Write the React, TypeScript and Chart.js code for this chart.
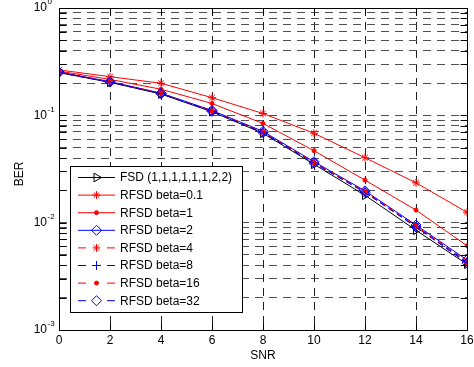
import React, { useEffect, useRef } from 'react';
import { Chart, registerables } from 'chart.js';

Chart.register(...registerables);

const snr = [0, 2, 4, 6, 8, 10, 12, 14, 16];
const fsd = [0.250, 0.203, 0.158, 0.108, 0.068, 0.0350, 0.0180, 0.0085, 0.0041];
const beta01 = [0.265, 0.229, 0.199, 0.146, 0.104, 0.0680, 0.0403, 0.0235, 0.0125];
const beta1 = [0.258, 0.216, 0.175, 0.129, 0.084, 0.0468, 0.0249, 0.0131, 0.0061];
const beta2 = [0.253, 0.206, 0.161, 0.111, 0.071, 0.0370, 0.0198, 0.0095, 0.0045];
const beta4 = [0.252, 0.205, 0.160, 0.110, 0.070, 0.0365, 0.0195, 0.0093, 0.0044];
const beta8 = [0.251, 0.204, 0.159, 0.109, 0.0695, 0.0360, 0.0192, 0.0092, 0.0043];
const beta16 = [0.251, 0.205, 0.160, 0.110, 0.070, 0.0362, 0.0194, 0.0093, 0.0042];
const beta32 = [0.251, 0.204, 0.159, 0.109, 0.069, 0.0358, 0.0191, 0.0091, 0.0042];

const seriesLabels = [
  'FSD (1,1,1,1,1,1,2,2)',
  'RFSD beta=0.1',
  'RFSD beta=1',
  'RFSD beta=2',
  'RFSD beta=4',
  'RFSD beta=8',
  'RFSD beta=16',
  'RFSD beta=32',
];
const seriesValues = [fsd, beta01, beta1, beta2, beta4, beta8, beta16, beta32];
const seriesColors = ['#000000', '#ff0000', '#ff0000', '#0000ff', '#ff0000', '#0000ff', '#ff0000', '#0000ff'];
const seriesDashed = [false, false, false, false, true, true, true, true];
const seriesMarkers = ['triangleRight', 'star', 'dot', 'diamond', 'star', 'plus', 'dot', 'diamond'];

const xTicks = [0, 2, 4, 6, 8, 10, 12, 14, 16];
const yExponents = [0, -1, -2, -3];
const xTitle = 'SNR';
const yTitle = 'BER';

const FONT = "Arial, 'Liberation Sans', Helvetica, sans-serif";

function markerStyle(m: string) {
  switch (m) {
    case 'triangleRight':
      return { pointStyle: 'triangle', pointRotation: 90, pointRadius: 5, fill: false };
    case 'star':
      return { pointStyle: 'star', pointRotation: 0, pointRadius: 4, fill: false };
    case 'dot':
      return { pointStyle: 'circle', pointRotation: 0, pointRadius: 2, fill: true };
    case 'diamond':
      return { pointStyle: 'rectRot', pointRotation: 0, pointRadius: 5, fill: false };
    case 'plus':
    default:
      return { pointStyle: 'cross', pointRotation: 0, pointRadius: 4.5, fill: false };
  }
}

function drawMarker(ctx: CanvasRenderingContext2D, m: string, x: number, y: number, color: string) {
  ctx.save();
  ctx.strokeStyle = color;
  ctx.fillStyle = color;
  ctx.lineWidth = 1;
  ctx.setLineDash([]);
  ctx.beginPath();
  if (m === 'triangleRight') {
    const r = 5;
    ctx.moveTo(x + r, y);
    ctx.lineTo(x - r / 2, y - r * 0.866);
    ctx.lineTo(x - r / 2, y + r * 0.866);
    ctx.closePath();
    ctx.stroke();
  } else if (m === 'star') {
    const r = 4;
    const d = r * Math.SQRT1_2;
    ctx.moveTo(x - r, y); ctx.lineTo(x + r, y);
    ctx.moveTo(x, y - r); ctx.lineTo(x, y + r);
    ctx.moveTo(x - d, y - d); ctx.lineTo(x + d, y + d);
    ctx.moveTo(x - d, y + d); ctx.lineTo(x + d, y - d);
    ctx.stroke();
  } else if (m === 'dot') {
    ctx.arc(x, y, 2, 0, Math.PI * 2);
    ctx.fill();
    ctx.stroke();
  } else if (m === 'diamond') {
    const r = 5;
    ctx.moveTo(x, y - r);
    ctx.lineTo(x + r, y);
    ctx.lineTo(x, y + r);
    ctx.lineTo(x - r, y);
    ctx.closePath();
    ctx.stroke();
  } else {
    const r = 4.5;
    ctx.moveTo(x - r, y); ctx.lineTo(x + r, y);
    ctx.moveTo(x, y - r); ctx.lineTo(x, y + r);
    ctx.stroke();
  }
  ctx.restore();
}

const decorPlugin = {
  id: 'decor',
  beforeDraw(chart: any) {
    const ctx = chart.ctx as CanvasRenderingContext2D;
    ctx.save();
    ctx.fillStyle = '#ffffff';
    ctx.fillRect(0, 0, chart.width, chart.height);
    ctx.restore();
  },
  afterDatasetsDraw(chart: any) {
    const ctx = chart.ctx as CanvasRenderingContext2D;
    const a = chart.chartArea;
    const xs = chart.scales.x;
    const ys = chart.scales.y;
    const L = Math.round(a.left) + 0.5;
    const R = Math.round(a.right) + 0.5;
    const T = Math.round(a.top) + 0.5;
    const B = Math.round(a.bottom) + 0.5;
    ctx.save();
    ctx.strokeStyle = '#000';
    ctx.lineWidth = 1;
    ctx.setLineDash([]);
    ctx.beginPath();
    xTicks.forEach((v) => {
      const px = Math.round(xs.getPixelForValue(v)) + 0.5;
      ctx.moveTo(px, B); ctx.lineTo(px, B - 7);
      ctx.moveTo(px, T); ctx.lineTo(px, T + 7);
    });
    for (let e = -3; e <= 0; e++) {
      for (let m = 1; m <= 9; m++) {
        const v = m * Math.pow(10, e);
        if (v > 1.0000001) continue;
        const py = Math.round(ys.getPixelForValue(v)) + 0.5;
        const len = 7;
        ctx.moveTo(L, py); ctx.lineTo(L + len, py);
        ctx.moveTo(R, py); ctx.lineTo(R - len, py);
      }
    }
    ctx.stroke();
    ctx.strokeRect(L, T, R - L, B - T);
    ctx.restore();
  },
  afterDraw(chart: any) {
    const ctx = chart.ctx as CanvasRenderingContext2D;
    const a = chart.chartArea;
    const xs = chart.scales.x;
    const ys = chart.scales.y;
    ctx.save();
    ctx.fillStyle = '#000';
    ctx.font = `12px ${FONT}`;
    ctx.textAlign = 'center';
    ctx.textBaseline = 'middle';
    xTicks.forEach((v) => {
      ctx.fillText(String(v), xs.getPixelForValue(v), a.bottom + 11);
    });
    yExponents.forEach((e) => {
      const py = ys.getPixelForValue(Math.pow(10, e));
      ctx.font = `12px ${FONT}`;
      ctx.textAlign = 'right';
      ctx.textBaseline = 'middle';
      const baseRight = a.left - 12;
      ctx.fillText('10', baseRight, py);
      ctx.font = `8px ${FONT}`;
      ctx.textAlign = 'left';
      ctx.fillText(String(e), baseRight + 0.5, py - 6);
    });
    ctx.font = `12px ${FONT}`;
    ctx.textAlign = 'center';
    ctx.textBaseline = 'middle';
    ctx.fillText(xTitle, (a.left + a.right) / 2, a.bottom + 26);
    ctx.save();
    ctx.translate(19.5, 174);
    ctx.rotate(-Math.PI / 2);
    ctx.fillText(yTitle, 0, 0);
    ctx.restore();

    const lx = 70.5, ly = 166.5, lw = 172, lh = 146;
    ctx.fillStyle = '#ffffff';
    ctx.fillRect(lx, ly, lw, lh);
    ctx.strokeStyle = '#000';
    ctx.lineWidth = 1;
    ctx.setLineDash([]);
    ctx.strokeRect(lx, ly, lw, lh);
    const rowH = 17.6;
    seriesLabels.forEach((label, i) => {
      const cy = 177.5 + i * rowH;
      const color = seriesColors[i];
      ctx.strokeStyle = color;
      ctx.lineWidth = 1;
      ctx.beginPath();
      if (seriesDashed[i]) {
        ctx.moveTo(78, cy); ctx.lineTo(86, cy);
        ctx.moveTo(107, cy); ctx.lineTo(115, cy);
      } else {
        ctx.moveTo(78, cy); ctx.lineTo(115, cy);
      }
      ctx.stroke();
      drawMarker(ctx, seriesMarkers[i], 96.5, cy, color);
      ctx.fillStyle = '#000';
      ctx.font = `12px ${FONT}`;
      ctx.textAlign = 'left';
      ctx.textBaseline = 'middle';
      ctx.fillText(label, 120, cy + 0.5);
    });
    ctx.restore();
  },
};

function buildYTicks() {
  const t: { value: number }[] = [];
  for (let e = -3; e <= 0; e++) {
    for (let m = 1; m <= 9; m++) {
      const v = m * Math.pow(10, e);
      if (v > 1.0000001) continue;
      t.push({ value: v });
    }
  }
  return t;
}

export default function App() {
  const ref = useRef<HTMLCanvasElement | null>(null);
  useEffect(() => {
    document.body.style.margin = '0';
    const canvas = ref.current;
    if (!canvas) return;
    const datasets = seriesLabels.map((label, i) => {
      const ms = markerStyle(seriesMarkers[i]);
      return {
        label,
        data: seriesValues[i].map((v, j) => ({ x: snr[j], y: v })),
        borderColor: seriesColors[i],
        backgroundColor: seriesColors[i],
        borderWidth: 1,
        borderDash: seriesDashed[i] ? [6, 4] : [],
        pointStyle: ms.pointStyle,
        pointRotation: ms.pointRotation,
        pointRadius: ms.pointRadius,
        pointHoverRadius: ms.pointRadius,
        pointBorderColor: seriesColors[i],
        pointBackgroundColor: ms.fill ? seriesColors[i] : 'rgba(0,0,0,0)',
        pointBorderWidth: 1,
        tension: 0,
        fill: false,
        order: seriesLabels.length - i,
      };
    });
    const chart = new Chart(canvas, {
      type: 'line',
      data: { datasets: datasets as any },
      options: {
        responsive: false,
        animation: false,
        devicePixelRatio: 1,
        layout: { padding: { left: 59, right: 7, top: 8, bottom: 37 } },
        plugins: { legend: { display: false }, tooltip: { enabled: false }, title: { display: false } },
        scales: {
          x: {
            type: 'linear',
            min: 0,
            max: 16,
            afterBuildTicks: (s: any) => { s.ticks = xTicks.map((v) => ({ value: v })); },
            ticks: { display: false },
            grid: { drawTicks: false, color: '#202020', lineWidth: 1 },
            border: { display: false, dash: [8, 6] },
          },
          y: {
            type: 'logarithmic',
            min: 0.001,
            max: 1,
            afterBuildTicks: (s: any) => { s.ticks = buildYTicks(); },
            ticks: { display: false },
            grid: { drawTicks: false, color: '#505050', lineWidth: 1 },
            border: { display: false, dash: [8, 6] },
          },
        },
      } as any,
      plugins: [decorPlugin],
    });
    return () => chart.destroy();
  }, []);
  return (
    <div style={{ width: 474, height: 367 }}>
      <canvas ref={ref} width={474} height={367} style={{ width: 474, height: 367, display: 'block' }} />
    </div>
  );
}
